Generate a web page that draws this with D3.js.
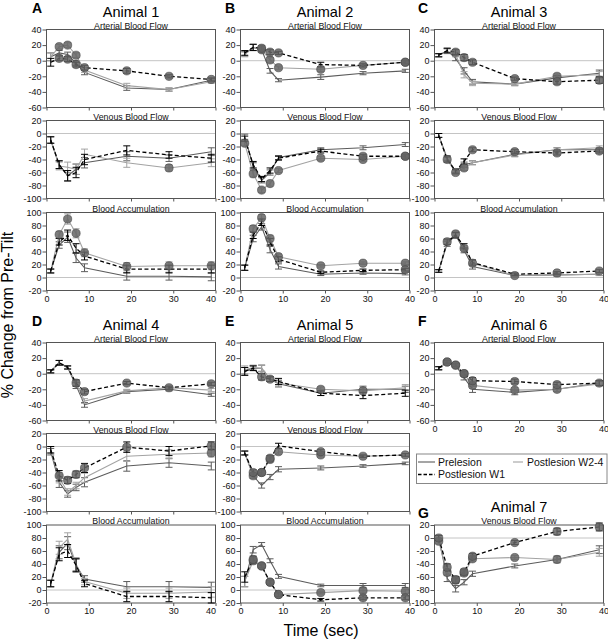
<!DOCTYPE html>
<html><head><meta charset="utf-8">
<script src="https://cdn.jsdelivr.net/npm/d3@7"></script>
<style>body{margin:0;background:#fff} text{font-family:"Liberation Sans",Arial,sans-serif}</style>
</head><body><svg id="c" width="608" height="642"></svg>
<script>
// ---------------- DATA ----------------
const times = [1, 3, 5, 7, 9, 19, 29, 39];
const xTicks = [0, 10, 20, 30, 40];
const artTicks = [-60, -40, -20, 0, 20, 40];
const venTicks = [-100, -80, -60, -40, -20, 0, 20];
const accTicks = [-20, 0, 20, 40, 60, 80, 100];
const seriesNames = ["Prelesion", "Postlesion W2-4", "Postlesion W1"];
const animalNames = ["Animal 1", "Animal 2", "Animal 3", "Animal 4", "Animal 5", "Animal 6", "Animal 7"];
const panelLetters = ["A", "B", "C", "D", "E", "F", "G"];
const measureTitles = ["Arterial Blood Flow", "Venous Blood Flow", "Blood Accumulation"];

// Animal 1
const a1ArtPre = [5, 10, 8, -3, -15, -35, -37, -25];
const a1ArtW24 = [5, 18, 20, 7, -12, -32, -37, -27];
const a1ArtW1 = [-2, 3, 2, -5, -9, -13, -20, -24];
const a1ArtErr = [5, 3, 3, 3, 3, 3, 2, 2];
const a1ArtDot24 = [0, 1, 1, 1, 0, 0, 0, 0];
const a1ArtDot1 = [0, 1, 1, 1, 1, 1, 1, 1];
const a1VenPre = [-10, -48, -65, -55, -45, -35, -38, -28];
const a1VenW24 = [-10, -50, -52, -55, -32, -45, -53, -45];
const a1VenW1 = [-10, -48, -65, -60, -40, -26, -33, -38];
const a1VenErr = [5, 6, 8, 8, 8, 7, 5, 6];
const a1VenDot24 = [0, 0, 0, 0, 0, 0, 1, 0];
const a1VenDot1 = [0, 0, 0, 0, 0, 0, 0, 0];
const a1AccPre = [10, 50, 62, 30, 15, 2, 2, 1];
const a1AccW24 = [10, 66, 90, 68, 38, 17, 18, 18];
const a1AccW1 = [10, 55, 65, 45, 33, 13, 13, 13];
const a1AccErr = [3, 5, 8, 7, 6, 6, 6, 6];
const a1AccDot24 = [0, 1, 1, 1, 1, 1, 1, 1];
const a1AccDot1 = [0, 0, 0, 0, 0, 0, 0, 0];
// Animal 2
const a2ArtPre = [9, 17, 14, -13, -25, -21, -16, -13];
const a2ArtW24 = [8, 17, 14, 1, -9, -11, -6, -2];
const a2ArtW1 = [10, 17, 16, 11, 10, -5, -6, -2];
const a2ArtErr = [3, 4, 3, 3, 2, 3, 2, 2];
const a2ArtDot24 = [0, 0, 1, 1, 1, 1, 1, 1];
const a2ArtDot1 = [0, 0, 1, 1, 1, 0, 0, 1];
const a2VenPre = [-5, -50, -72, -60, -37, -25, -22, -17];
const a2VenW24 = [-15, -62, -87, -77, -57, -38, -40, -35];
const a2VenW1 = [-8, -48, -70, -57, -38, -27, -35, -35];
const a2VenErr = [4, 5, 4, 4, 3, 3, 3, 3];
const a2VenDot24 = [1, 1, 1, 1, 1, 1, 1, 1];
const a2VenDot1 = [0, 0, 0, 0, 0, 0, 1, 1];
const a2AccPre = [15, 60, 78, 43, 17, 5, 7, 6];
const a2AccW24 = [15, 75, 92, 60, 32, 18, 22, 22];
const a2AccW1 = [15, 65, 85, 55, 28, 8, 11, 12];
const a2AccErr = [4, 5, 5, 5, 4, 2, 2, 2];
const a2AccDot24 = [0, 1, 1, 1, 1, 1, 1, 1];
const a2AccDot1 = [0, 0, 0, 0, 0, 0, 0, 1];
// Animal 3
const a3ArtPre = [7, 13, 3, -13, -27, -30, -22, -16];
const a3ArtW24 = [7, 12, 8, -18, -29, -30, -20, -18];
const a3ArtW1 = [7, 13, 11, 4, -2, -23, -27, -25];
const a3ArtErr = [2, 3, 3, 4, 3, 2, 3, 4];
const a3ArtDot24 = [0, 0, 0, 0, 0, 0, 1, 0];
const a3ArtDot1 = [0, 0, 1, 1, 1, 1, 1, 1];
const a3VenPre = [-3, -38, -58, -48, -45, -32, -25, -25];
const a3VenW24 = [-3, -40, -60, -53, -45, -33, -25, -22];
const a3VenW1 = [-3, -40, -58, -43, -25, -28, -30, -27];
const a3VenErr = [3, 4, 3, 4, 3, 3, 3, 3];
const a3VenDot24 = [0, 1, 1, 1, 0, 0, 0, 0];
const a3VenDot1 = [0, 0, 0, 0, 1, 1, 1, 1];
const a3AccPre = [10, 52, 65, 42, 17, 3, 4, 5];
const a3AccW24 = [10, 55, 67, 45, 22, 3, 4, 5];
const a3AccW1 = [10, 55, 65, 48, 23, 5, 7, 10];
const a3AccErr = [2, 4, 4, 4, 4, 2, 2, 2];
const a3AccDot24 = [0, 1, 1, 1, 1, 1, 0, 0];
const a3AccDot1 = [0, 0, 0, 0, 0, 0, 1, 1];
// Animal 4
const a4ArtPre = [3, 14, 8, -15, -40, -23, -20, -27];
const a4ArtW24 = [3, 14, 8, -12, -35, -22, -18, -21];
const a4ArtW1 = [3, 14, 8, -12, -23, -12, -18, -13];
const a4ArtErr = [2, 3, 2, 4, 3, 2, 2, 2];
const a4ArtDot24 = [0, 0, 0, 0, 0, 0, 0, 0];
const a4ArtDot1 = [0, 0, 0, 1, 1, 1, 1, 1];
const a4VenPre = [-8, -55, -73, -63, -55, -30, -25, -30];
const a4VenW24 = [-5, -48, -70, -60, -48, -15, -12, -10];
const a4VenW1 = [-5, -45, -52, -43, -33, -1, -7, 1];
const a4VenErr = [5, 8, 5, 5, 7, 8, 7, 6];
const a4VenDot24 = [0, 0, 0, 0, 0, 0, 0, 1];
const a4VenDot1 = [0, 1, 1, 1, 1, 1, 0, 1];
const a4AccPre = [10, 58, 72, 38, 17, 5, 5, 4];
const a4AccW24 = [10, 65, 78, 40, 13, -5, -5, -3];
const a4AccW1 = [10, 55, 60, 38, 10, -10, -10, -12];
const a4AccErr = [5, 10, 10, 10, 5, 8, 8, 8];
const a4AccDot24 = [0, 0, 0, 0, 0, 0, 0, 0];
const a4AccDot1 = [0, 0, 0, 0, 0, 0, 0, 0];
// Animal 5
const a5ArtPre = [3, 7, 7, -7, -13, -25, -20, -20];
const a5ArtW24 = [5, 8, 7, -7, -12, -20, -22, -18];
const a5ArtW1 = [3, 7, -4, -7, -10, -25, -28, -25];
const a5ArtErr = [5, 3, 4, 3, 4, 3, 4, 4];
const a5ArtDot24 = [0, 0, 0, 0, 0, 1, 1, 0];
const a5ArtDot1 = [0, 0, 1, 1, 0, 0, 0, 0];
const a5VenPre = [-10, -45, -60, -47, -35, -33, -30, -26];
const a5VenW24 = [-10, -45, -40, -20, -8, -13, -15, -13];
const a5VenW1 = [-10, -40, -40, -18, 1, -8, -15, -13];
const a5VenErr = [3, 4, 4, 4, 4, 3, 2, 2];
const a5VenDot24 = [0, 1, 1, 1, 1, 1, 0, 0];
const a5VenDot1 = [0, 1, 1, 1, 0, 1, 1, 1];
const a5AccPre = [13, 62, 70, 45, 21, 7, 7, 7];
const a5AccW24 = [13, 45, 37, 12, -7, -4, -1, -2];
const a5AccW1 = [20, 47, 37, 12, -7, -15, -12, -12];
const a5AccErr = [8, 5, 3, 3, 3, 2, 3, 3];
const a5AccDot24 = [0, 1, 1, 1, 1, 1, 1, 1];
const a5AccDot1 = [0, 1, 1, 1, 1, 0, 1, 1];
// Animal 6
const a6ArtPre = [7, 15, 11, -5, -20, -24, -20, -12];
const a6ArtW24 = [7, 15, 11, 0, -15, -21, -20, -13];
const a6ArtW1 = [7, 15, 11, 0, -9, -10, -14, -12];
const a6ArtErr = [2, 2, 2, 3, 4, 3, 3, 3];
const a6ArtDot24 = [0, 1, 1, 1, 1, 1, 1, 0];
const a6ArtDot1 = [0, 1, 1, 1, 1, 1, 1, 1];
// Animal 7
const a7VenPre = [0, -62, -78, -68, -55, -43, -33, -18];
const a7VenW24 = [-5, -53, -65, -54, -32, -30, -33, -22];
const a7VenW1 = [0, -45, -64, -52, -28, -7, 10, 17];
const a7VenErr = [4, 5, 5, 4, 4, 3, 5, 6];
const a7VenDot24 = [1, 1, 1, 1, 1, 1, 1, 0];
const a7VenDot1 = [1, 1, 1, 1, 1, 1, 1, 1];

// ---------------- LAYOUT ----------------
const svg = d3.select("#c");
const colX = [46.5, 240.5, 434.5];
const plotW = 169, plotH = 78;
const rowTop = [[29.5, 120.5, 212.5], [342.5, 433.5, 525]];
const typeInfo = [
  {domain: [-60, 40], ticks: artTicks},
  {domain: [-100, 20], ticks: venTicks},
  {domain: [-20, 100], ticks: accTicks}
];
const colors = {pre: "#5c5c5c", w24: "#a3a3a3", w1: "#000"};

const panels = [
  {col:0, top:rowTop[0][0], t:0, pre:a1ArtPre, w24:a1ArtW24, w1:a1ArtW1, err:a1ArtErr, d24:a1ArtDot24, d1:a1ArtDot1},
  {col:0, top:rowTop[0][1], t:1, pre:a1VenPre, w24:a1VenW24, w1:a1VenW1, err:a1VenErr, d24:a1VenDot24, d1:a1VenDot1},
  {col:0, top:rowTop[0][2], t:2, pre:a1AccPre, w24:a1AccW24, w1:a1AccW1, err:a1AccErr, d24:a1AccDot24, d1:a1AccDot1, xl:true},
  {col:1, top:rowTop[0][0], t:0, pre:a2ArtPre, w24:a2ArtW24, w1:a2ArtW1, err:a2ArtErr, d24:a2ArtDot24, d1:a2ArtDot1},
  {col:1, top:rowTop[0][1], t:1, pre:a2VenPre, w24:a2VenW24, w1:a2VenW1, err:a2VenErr, d24:a2VenDot24, d1:a2VenDot1},
  {col:1, top:rowTop[0][2], t:2, pre:a2AccPre, w24:a2AccW24, w1:a2AccW1, err:a2AccErr, d24:a2AccDot24, d1:a2AccDot1, xl:true},
  {col:2, top:rowTop[0][0], t:0, pre:a3ArtPre, w24:a3ArtW24, w1:a3ArtW1, err:a3ArtErr, d24:a3ArtDot24, d1:a3ArtDot1},
  {col:2, top:rowTop[0][1], t:1, pre:a3VenPre, w24:a3VenW24, w1:a3VenW1, err:a3VenErr, d24:a3VenDot24, d1:a3VenDot1},
  {col:2, top:rowTop[0][2], t:2, pre:a3AccPre, w24:a3AccW24, w1:a3AccW1, err:a3AccErr, d24:a3AccDot24, d1:a3AccDot1, xl:true},
  {col:0, top:rowTop[1][0], t:0, pre:a4ArtPre, w24:a4ArtW24, w1:a4ArtW1, err:a4ArtErr, d24:a4ArtDot24, d1:a4ArtDot1},
  {col:0, top:rowTop[1][1], t:1, pre:a4VenPre, w24:a4VenW24, w1:a4VenW1, err:a4VenErr, d24:a4VenDot24, d1:a4VenDot1},
  {col:0, top:rowTop[1][2], t:2, pre:a4AccPre, w24:a4AccW24, w1:a4AccW1, err:a4AccErr, d24:a4AccDot24, d1:a4AccDot1, xl:true},
  {col:1, top:rowTop[1][0], t:0, pre:a5ArtPre, w24:a5ArtW24, w1:a5ArtW1, err:a5ArtErr, d24:a5ArtDot24, d1:a5ArtDot1},
  {col:1, top:rowTop[1][1], t:1, pre:a5VenPre, w24:a5VenW24, w1:a5VenW1, err:a5VenErr, d24:a5VenDot24, d1:a5VenDot1},
  {col:1, top:rowTop[1][2], t:2, pre:a5AccPre, w24:a5AccW24, w1:a5AccW1, err:a5AccErr, d24:a5AccDot24, d1:a5AccDot1, xl:true},
  {col:2, top:rowTop[1][0], t:0, pre:a6ArtPre, w24:a6ArtW24, w1:a6ArtW1, err:a6ArtErr, d24:a6ArtDot24, d1:a6ArtDot1, xl:true},
  {col:2, top:525, t:1, pre:a7VenPre, w24:a7VenW24, w1:a7VenW1, err:a7VenErr, d24:a7VenDot24, d1:a7VenDot1, xl:true}
];

const headings = [
  {col:0, ty:17, ly:13}, {col:1, ty:17, ly:13}, {col:2, ty:17, ly:13},
  {col:0, ty:330, ly:326}, {col:1, ty:330, ly:326}, {col:2, ty:330, ly:326},
  {col:2, ty:511.5, ly:517.5}
];
const letterX = [32, 225, 418];

function drawPanel(p) {
  const x0 = colX[p.col], y0 = p.top;
  const info = typeInfo[p.t];
  const x = d3.scaleLinear().domain([0, 40]).range([x0, x0 + plotW]);
  const y = d3.scaleLinear().domain(info.domain).range([y0 + plotH, y0]);
  const g = svg.append("g");

  g.append("line").attr("x1", x0).attr("x2", x0 + plotW)
    .attr("y1", y(0)).attr("y2", y(0)).attr("stroke", "#c4c4c4").attr("stroke-width", 1);

  const ya = d3.axisLeft(y).tickValues(info.ticks).tickSize(4).tickPadding(1).tickFormat(d => String(d));
  const yg = g.append("g").attr("transform", `translate(${x0},0)`).call(ya);
  const xa = d3.axisBottom(x).tickValues(xTicks).tickSize(3).tickPadding(2)
    .tickFormat(p.xl ? (d => String(d)) : "");
  const xg = g.append("g").attr("transform", `translate(0,${y0 + plotH})`).call(xa);
  [yg, xg].forEach(a => {
    a.select(".domain").remove();
    a.selectAll("line").attr("stroke", "#555");
    a.selectAll("text").attr("font-size", 9).attr("fill", "#111")
      .style("font-family", '"Liberation Sans",Arial,sans-serif');
  });
  if (p.col === 0) xg.selectAll("text").filter(d => d === 40).attr("dx", -5);

  g.append("rect").attr("x", x0).attr("y", y0).attr("width", plotW).attr("height", plotH)
    .attr("fill", "none").attr("stroke", "#555").attr("stroke-width", 1);

  g.append("text").attr("x", x0 + plotW / 2).attr("y", y0 - 1).attr("text-anchor", "middle")
    .attr("font-size", 8.8).attr("fill", "#111").text(measureTitles[p.t]);

  const series = [
    {key: "pre", vals: p.pre, dots: null},
    {key: "w24", vals: p.w24, dots: p.d24},
    {key: "w1", vals: p.w1, dots: p.d1}
  ];
  const line = d3.line().x((d, i) => x(times[i])).y(d => y(d));
  series.forEach(s => {
    const c = colors[s.key];
    const eg = g.append("g").attr("stroke", c).attr("stroke-width", 1);
    s.vals.forEach((v, i) => {
      const e = p.err[i], cx = x(times[i]);
      eg.append("line").attr("x1", cx).attr("x2", cx).attr("y1", y(v - e)).attr("y2", y(v + e));
      eg.append("line").attr("x1", cx - 3.5).attr("x2", cx + 3.5).attr("y1", y(v - e)).attr("y2", y(v - e));
      eg.append("line").attr("x1", cx - 3.5).attr("x2", cx + 3.5).attr("y1", y(v + e)).attr("y2", y(v + e));
    });
    g.append("path").attr("d", line(s.vals)).attr("fill", "none").attr("stroke", c)
      .attr("stroke-width", s.key === "w1" ? 1.3 : 1.1)
      .attr("stroke-dasharray", s.key === "w1" ? "4,2.5" : null);
  });
  series.forEach(s => {
    if (!s.dots) return;
    s.vals.forEach((v, i) => {
      if (!s.dots[i]) return;
      g.append("circle").attr("cx", x(times[i])).attr("cy", y(v)).attr("r", 4.1)
        .attr("fill", "#656565").attr("fill-opacity", 0.85)
        .attr("stroke", "#444").attr("stroke-width", 0.6);
    });
  });
}
panels.forEach(drawPanel);

headings.forEach((h, i) => {
  svg.append("text").attr("x", colX[h.col] + plotW / 2).attr("y", h.ty).attr("text-anchor", "middle")
    .attr("font-size", 14.5).attr("fill", "#000").text(animalNames[i]);
  svg.append("text").attr("x", letterX[h.col]).attr("y", h.ly).attr("font-size", 14)
    .attr("font-weight", "bold").attr("fill", "#000").text(panelLetters[i]);
});

svg.append("text").attr("transform", "translate(13,315) rotate(-90)").attr("text-anchor", "middle")
  .attr("font-size", 16).attr("fill", "#000").text("% Change from Pre-Tilt");
svg.append("text").attr("x", 321).attr("y", 636).attr("text-anchor", "middle")
  .attr("font-size", 16).attr("fill", "#000").text("Time (sec)");

// legend
const lg = svg.append("g");
lg.append("rect").attr("x", 416.5).attr("y", 454).attr("width", 190.5).attr("height", 29.5)
  .attr("fill", "#fff").attr("stroke", "#888").attr("stroke-width", 1);
const legendItems = [
  {key: "pre", x1: 418, x2: 435, tx: 438, y: 462},
  {key: "w24", x1: 513, x2: 523, tx: 527, y: 462},
  {key: "w1", x1: 418, x2: 435, tx: 438, y: 474.5}
];
legendItems.forEach((it, i) => {
  lg.append("line").attr("x1", it.x1).attr("x2", it.x2).attr("y1", it.y).attr("y2", it.y)
    .attr("stroke", colors[it.key]).attr("stroke-width", it.key === "w1" ? 1.4 : 1.1)
    .attr("stroke-dasharray", it.key === "w1" ? "3.5,2" : null);
  lg.append("text").attr("x", it.tx).attr("y", it.y + 3.8).attr("font-size", 10.5).attr("fill", "#111")
    .text(seriesNames[i]);
});
</script></body></html>
